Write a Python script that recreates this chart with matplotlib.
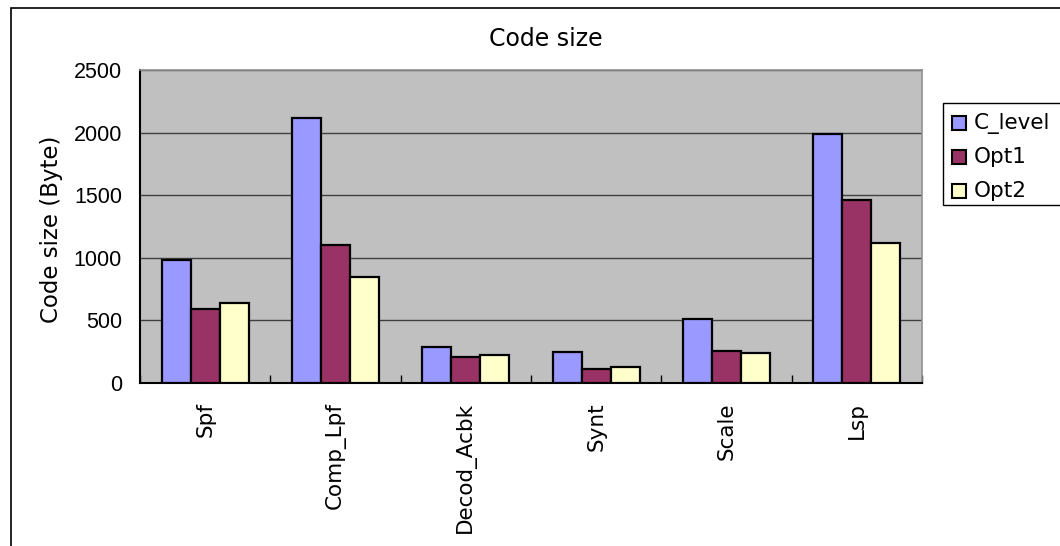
import matplotlib
matplotlib.use("Agg")
import matplotlib.pyplot as plt
from matplotlib.patches import Rectangle
import numpy as np

categories = ["Spf", "Comp_Lpf", "Decod_Acbk", "Synt", "Scale", "Lsp"]
series_names = ["C_level", "Opt1", "Opt2"]
c_level = [980, 2120, 290, 245, 512, 1990]
opt1 = [592, 1104, 208, 115, 256, 1460]
opt2 = [640, 850, 224, 128, 243, 1120]
y_ticks = [0, 500, 1000, 1500, 2000, 2500]

colors = ["#9999FF", "#993366", "#FFFFCC"]

plt.rcParams["font.family"] = ["DejaVu Sans"]
num_font = ["Liberation Sans", "DejaVu Sans"]

W, H = 1060, 546
fig = plt.figure(figsize=(W / 100, H / 100), dpi=100)
fig.patch.set_facecolor("white")

def fx(px):
    return px / W

def fy(py):
    return 1 - py / H

# outer chart frame (runs past the right and bottom edges)
fig.patches.append(Rectangle((fx(11), -0.1), 1.2, fy(8) + 0.1,
                             transform=fig.transFigure, fill=False,
                             edgecolor="black", linewidth=1.2))

left, right = fx(140), fx(922)
bottom, top = fy(383), fy(70)
ax = fig.add_axes([left, bottom, right - left, top - bottom])
ax.set_facecolor("#C0C0C0")

n = len(categories)
x = np.arange(n)
bw = 1 / 4.5
all_series = [c_level, opt1, opt2]
for i, (vals, col, name) in enumerate(zip(all_series, colors, series_names)):
    ax.bar(x + (i - 1) * bw, vals, width=bw, color=col, edgecolor="black",
           linewidth=1.6, label=name, zorder=3)

ax.set_xlim(-0.5, n - 0.5)
ax.set_ylim(0, 2500)
ax.set_yticks(y_ticks)
ax.set_yticklabels([str(v) for v in y_ticks], fontsize=15.5, family=num_font)
ax.yaxis.grid(True, color="#404040", linewidth=1.0, zorder=1)
ax.set_axisbelow(True)

# category ticks sit on group boundaries; labels at group centers
ax.set_xticks(np.arange(n + 1) - 0.5)
ax.set_xticklabels([])
ax.tick_params(axis="x", direction="in", length=6, width=1, color="black")
ax.tick_params(axis="y", length=0, pad=13)
for xi, cat in zip(x, categories):
    ax.text(xi, -19 / 313, cat, transform=ax.get_xaxis_transform(),
            rotation=90, ha="center", va="top", fontsize=15.5)

for s in ["left", "bottom"]:
    ax.spines[s].set_color("black")
    ax.spines[s].set_linewidth(1.5)
for s in ["top", "right"]:
    ax.spines[s].set_color("#909090")
    ax.spines[s].set_linewidth(1.2)

fig.text(fx(52), fy(229), "Code size (Byte)", rotation=90, ha="center",
         va="center", fontsize=16.5)
fig.text(fx(546), fy(39), "Code size", ha="center", va="center", fontsize=17)

# legend box with square swatches
fig.patches.append(Rectangle((fx(943), fy(205)), fx(1080) - fx(943),
                             fy(103) - fy(205), transform=fig.transFigure,
                             facecolor="white", edgecolor="black",
                             linewidth=1.0))
for k, (name, col) in enumerate(zip(series_names, colors)):
    cy = 123 + 34 * k
    fig.patches.append(Rectangle((fx(952), fy(cy + 7)), fx(14), 14 / H,
                                 transform=fig.transFigure, facecolor=col,
                                 edgecolor="black", linewidth=1.5))
    fig.text(fx(974), fy(cy), name, ha="left", va="center", fontsize=15.5)

fig.savefig("out.png", dpi=100, facecolor="white")
